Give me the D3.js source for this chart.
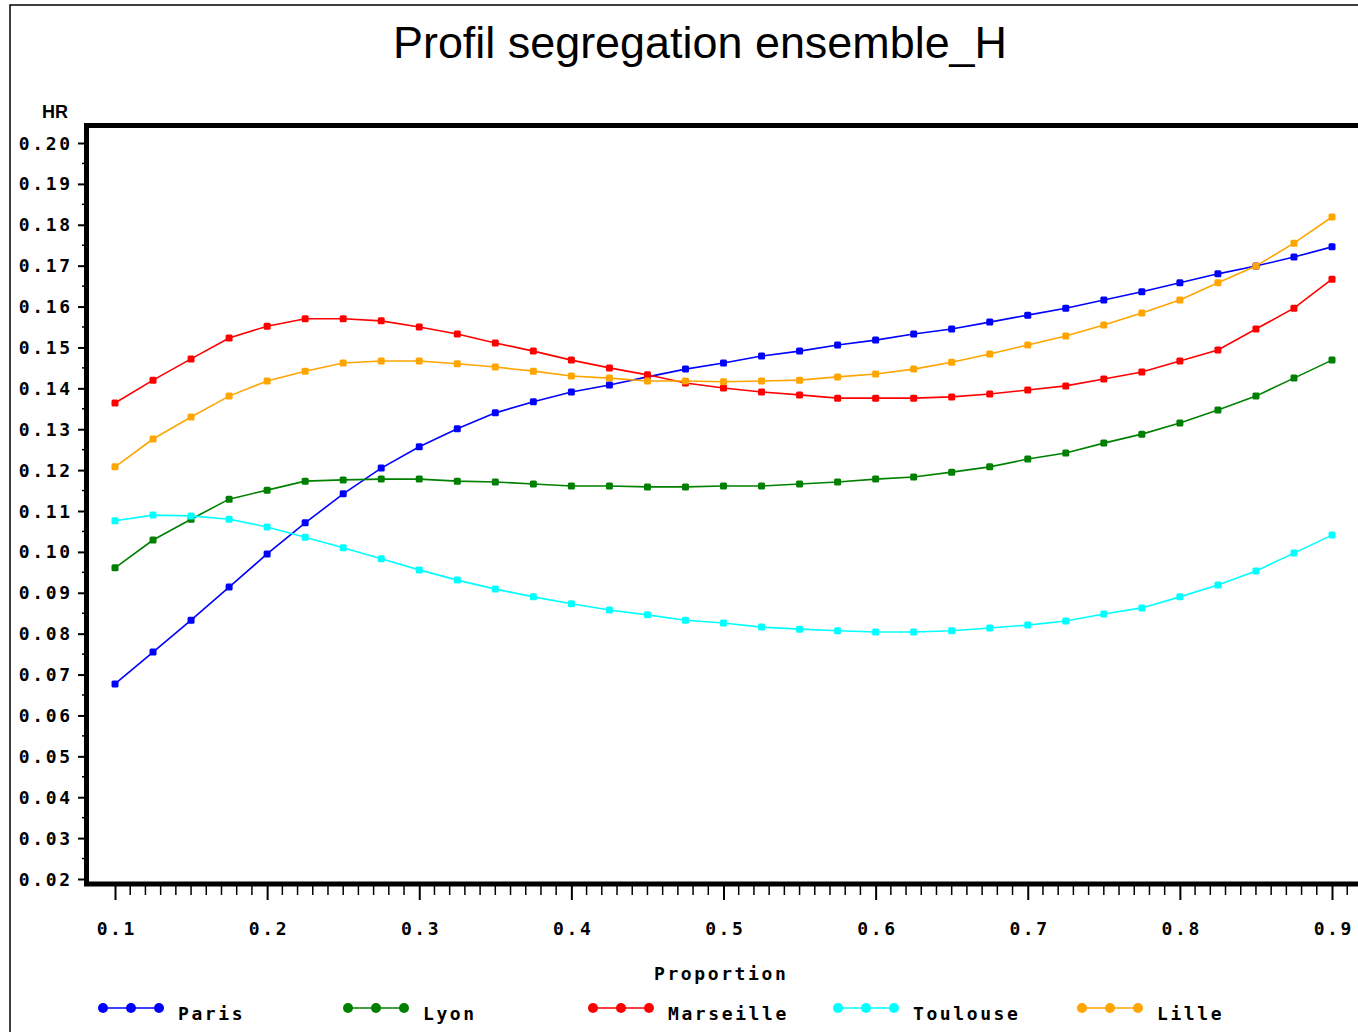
<!DOCTYPE html>
<html>
<head>
<meta charset="utf-8">
<script src="https://cdn.jsdelivr.net/npm/d3@7"></script>
<style>
  html, body { margin: 0; padding: 0; background: #fff; }
  svg { display: block; }
  .lab { font-family: "DejaVu Sans Mono", monospace; font-weight: bold; font-size: 18px; letter-spacing: 2.6px; fill: #000; }
</style>
</head>
<body>
<svg id="chart" width="1358" height="1032"></svg>
<script>
// proportions 0.1 .. 0.9 step 0.025
const proportion = [0.1, 0.125, 0.15, 0.175, 0.2, 0.225, 0.25, 0.275, 0.3, 0.325, 0.35,
  0.375, 0.4, 0.425, 0.45, 0.475, 0.5, 0.525, 0.55, 0.575, 0.6, 0.625, 0.65, 0.675,
  0.7, 0.725, 0.75, 0.775, 0.8, 0.825, 0.85, 0.875, 0.9];

const paris = [0.0677, 0.0755, 0.0833, 0.0914, 0.0995, 0.1071, 0.1142, 0.1205, 0.1257, 0.1301, 0.1340,
  0.1367, 0.1391, 0.1408, 0.1428, 0.1447, 0.1462, 0.1479, 0.1491, 0.1506, 0.1518, 0.1533, 0.1545, 0.1562,
  0.1579, 0.1596, 0.1616, 0.1636, 0.1658, 0.1680, 0.1699, 0.1721, 0.1746];
const lyon = [0.0961, 0.1029, 0.1080, 0.1129, 0.1151, 0.1173, 0.1176, 0.1178, 0.1178, 0.1173, 0.1171,
  0.1166, 0.1161, 0.1161, 0.1159, 0.1159, 0.1161, 0.1161, 0.1166, 0.1171, 0.1178, 0.1183, 0.1195, 0.1208,
  0.1227, 0.1242, 0.1266, 0.1288, 0.1315, 0.1347, 0.1381, 0.1425, 0.1469];
const marseille = [0.1364, 0.1420, 0.1472, 0.1523, 0.1552, 0.1570, 0.1570, 0.1565, 0.1550, 0.1533, 0.1511,
  0.1491, 0.1469, 0.1450, 0.1433, 0.1413, 0.1401, 0.1391, 0.1384, 0.1376, 0.1376, 0.1376, 0.1379, 0.1386,
  0.1396, 0.1406, 0.1423, 0.1440, 0.1467, 0.1494, 0.1545, 0.1596, 0.1667];
const toulouse = [0.1076, 0.1090, 0.1088, 0.1080, 0.1061, 0.1036, 0.1010, 0.0983, 0.0956, 0.0931, 0.0909,
  0.0890, 0.0873, 0.0858, 0.0846, 0.0833, 0.0826, 0.0816, 0.0811, 0.0807, 0.0804, 0.0804, 0.0807, 0.0814,
  0.0821, 0.0831, 0.0848, 0.0863, 0.0890, 0.0919, 0.0953, 0.0997, 0.1041];
const lille = [0.1208, 0.1276, 0.1330, 0.1381, 0.1418, 0.1442, 0.1462, 0.1467, 0.1467, 0.1460, 0.1452,
  0.1442, 0.1430, 0.1425, 0.1418, 0.1418, 0.1416, 0.1418, 0.1420, 0.1428, 0.1435, 0.1447, 0.1464, 0.1484,
  0.1506, 0.1528, 0.1555, 0.1584, 0.1616, 0.1658, 0.1699, 0.1755, 0.1819];

const cities = ['Paris', 'Lyon', 'Marseille', 'Toulouse', 'Lille'];
const colors = ['#0000ff', '#008000', '#ff0000', '#00ffff', '#ffa500'];
const seriesValues = [paris, lyon, marseille, toulouse, lille];

const xTicks = [0.1, 0.2, 0.3, 0.4, 0.5, 0.6, 0.7, 0.8, 0.9];
const yTicks = [0.02, 0.03, 0.04, 0.05, 0.06, 0.07, 0.08, 0.09, 0.10, 0.11,
  0.12, 0.13, 0.14, 0.15, 0.16, 0.17, 0.18, 0.19, 0.20];

const svg = d3.select('#chart');
const ls = 2.6; // letter spacing used by the bold labels

const x = d3.scaleLinear().domain([0.1, 0.9]).range([115, 1332]);
const y = d3.scaleLinear().domain([0.02, 0.20]).range([879, 143]);

// outer page border
svg.append('path')
  .attr('d', 'M10,1032 V5 H1358')
  .attr('fill', 'none').attr('stroke', '#000').attr('stroke-width', 1.5);

// title
svg.append('text')
  .attr('x', 393).attr('y', 58)
  .attr('textLength', 614).attr('lengthAdjust', 'spacingAndGlyphs')
  .style('font-family', '"Liberation Sans Narrow", "Liberation Sans", sans-serif')
  .style('font-size', '44px')
  .text('Profil  segregation  ensemble_H');

// minor ticks
const xMinor = d3.range(10, 94).map(d => d / 100).filter(d => !xTicks.some(t => Math.abs(t - d) < 1e-6));
const yMinor = d3.range(2, 20).map(d => d / 100 + 0.005);

const xAxis = d3.axisBottom(x).tickValues(xTicks).tickSize(14).tickFormat(d3.format('.1f'));
const yAxis = d3.axisLeft(y).tickValues(yTicks).tickSize(10).tickFormat(d3.format('.2f'));

const gx = svg.append('g').attr('transform', 'translate(0,886)').call(xAxis);
gx.select('.domain').remove();
gx.selectAll('.tick line').attr('stroke', '#000').attr('stroke-width', 2);
gx.selectAll('.tick text')
  .attr('class', 'lab').attr('y', 49).attr('dy', null).attr('dx', ls / 2)
  .attr('font-size', null).attr('font-family', null);
gx.selectAll('.minor').data(xMinor).enter().append('line')
  .attr('x1', d => x(d)).attr('x2', d => x(d)).attr('y1', 0).attr('y2', 9)
  .attr('stroke', '#000').attr('stroke-width', 1.5);

const gy = svg.append('g').attr('transform', 'translate(88,0)').call(yAxis);
gy.select('.domain').remove();
gy.selectAll('.tick line').attr('stroke', '#000').attr('stroke-width', 2);
gy.selectAll('.tick text')
  .attr('class', 'lab').attr('x', -18 + ls).attr('dy', 6)
  .attr('font-size', null).attr('font-family', null);
gy.selectAll('.minor').data(yMinor).enter().append('line')
  .attr('x1', -6).attr('x2', 0).attr('y1', d => y(d)).attr('y2', d => y(d))
  .attr('stroke', '#000').attr('stroke-width', 1.5);

// thick plot frame
svg.append('path')
  .attr('d', 'M1362,884 H86.5 V125.5 H1362')
  .attr('fill', 'none').attr('stroke', '#000').attr('stroke-width', 5);

// axis titles
svg.append('text')
  .attr('x', 68).attr('y', 118).attr('text-anchor', 'end')
  .style('font-family', '"Liberation Sans Narrow", "Liberation Sans", sans-serif')
  .style('font-weight', 'bold').style('font-size', '18px')
  .text('HR');
svg.append('text').attr('class', 'lab')
  .attr('x', 654).attr('y', 980)
  .text('Proportion');

// series
const line = d3.line().x(d => x(d[0])).y(d => y(d[1]));
seriesValues.forEach((vals, i) => {
  const pts = proportion.map((p, j) => [p, vals[j]]);
  const g = svg.append('g');
  g.append('path').datum(pts)
    .attr('d', line).attr('fill', 'none')
    .attr('stroke', colors[i]).attr('stroke-width', 1.6);
  g.selectAll('rect').data(pts).enter().append('rect')
    .attr('x', d => x(d[0]) - 3.5).attr('y', d => y(d[1]) - 3.5)
    .attr('width', 7).attr('height', 7).attr('rx', 1.5)
    .attr('fill', colors[i]);
});

// legend
const legendX = [103, 348, 593, 838, 1082];
cities.forEach((c, i) => {
  const g = svg.append('g').attr('transform', `translate(${legendX[i]},1008)`);
  g.append('line').attr('x1', 0).attr('x2', 56).attr('y1', 0).attr('y2', 0)
    .attr('stroke', colors[i]).attr('stroke-width', 1.6);
  [0, 28, 56].forEach(dx => {
    g.append('circle').attr('cx', dx).attr('cy', 0).attr('r', 5).attr('fill', colors[i]);
  });
  g.append('text').attr('class', 'lab').attr('x', 75).attr('y', 12).text(c);
});
</script>
</body>
</html>
